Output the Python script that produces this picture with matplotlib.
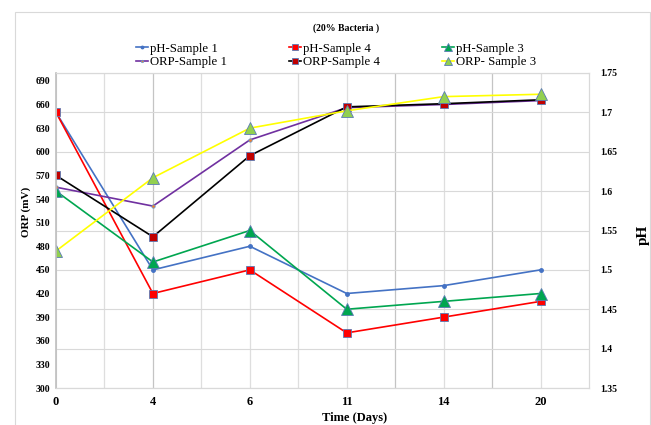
import numpy as np
import matplotlib.pyplot as plt
from matplotlib.patches import Rectangle

plt.rcParams['font.family'] = ['Liberation Serif', 'DejaVu Serif']

# Data
days = ['0', '4', '6', '11', '14', '20']
ph_s1 = [1.70, 1.50, 1.53, 1.47, 1.48, 1.50]
ph_s4 = [1.70, 1.47, 1.50, 1.42, 1.44, 1.46]
ph_s3 = [1.60, 1.51, 1.55, 1.45, 1.46, 1.47]
orp_s1 = [555, 531, 615, 656, 660, 665]
orp_s4 = [570, 492, 595, 657, 661, 666]
orp_s3 = [474, 567, 630, 652, 670, 673]

orp_ticks = np.arange(300, 691, 30)
ph_ticks = np.arange(1.35, 1.751, 0.05)

x = np.arange(len(days))

fig = plt.figure(figsize=(6.51, 4.25), dpi=100)

# outer chart frame
fig.patches.append(Rectangle((15 / 651, -0.1), 635 / 651, 1 - 12 / 425 + 0.1,
                             transform=fig.transFigure, fill=False,
                             edgecolor='#d9d9d9', linewidth=0.8))

ax2 = fig.add_axes([56 / 651, 37 / 425, 533 / 651, 315 / 425])
ax = ax2.twinx()
ax.yaxis.tick_left()
ax.yaxis.set_label_position('left')
ax2.yaxis.tick_right()
ax2.yaxis.set_label_position('right')
ax.set_zorder(ax2.get_zorder() + 1)
ax.patch.set_visible(False)

edge = '#5b7bb5'
lw = 1.2
# pH series (right axis)
l_ph1, = ax2.plot(x, ph_s1, color='#4472C4', lw=lw, marker='o', ms=2.5,
                  mec='#4472C4', label='pH-Sample 1')
l_ph4, = ax2.plot(x, ph_s4, color='#FF0000', lw=lw, marker='s', ms=6,
                  mfc='#FF0000', mec=edge, mew=0.6, label='pH-Sample 4')
l_ph3, = ax2.plot(x, ph_s3, color='#00A650', lw=lw, marker='^', ms=8,
                  mfc='#00A650', mec=edge, mew=0.6, label='pH-Sample 3')
# ORP series (left axis)
l_o1, = ax.plot(x, orp_s1, color='#7030A0', lw=lw, marker='o', ms=2.5,
                mfc='#ED7D31', mec='#5B9BD5', mew=0.5, label='ORP-Sample 1')
l_o4, = ax.plot(x, orp_s4, color='#000000', lw=lw, marker='s', ms=6,
                mfc='#C00000', mec=edge, mew=0.6, label='ORP-Sample 4')
l_o3, = ax.plot(x, orp_s3, color='#FFFF00', lw=lw, marker='^', ms=8,
                mfc='#92D050', mec=edge, mew=0.6, label='ORP- Sample 3')

ax2.set_xlim(0, 5.5)
ax2.set_ylim(1.35, 1.75)
ax.set_ylim(300, 700)

ax2.set_xticks(x)
ax2.set_xticklabels(days, fontsize=9, fontweight='bold')
ax2.set_yticks(ph_ticks)
ax2.set_yticklabels([f'{v:g}' for v in np.round(ph_ticks, 2)], fontsize=7,
                    fontweight='bold')
ax.set_yticks(orp_ticks)
ax.set_yticklabels([str(v) for v in orp_ticks], fontsize=7, fontweight='bold')

# vertical gridlines every half step, a few drawn darker as in the original
for gx in np.arange(0.5, 5.5, 0.5):
    dark = gx in (1.0, 3.5, 4.5)
    ax2.axvline(gx, color='#c4c4c4' if dark else '#dedede', lw=0.9, zorder=0)
ax2.grid(True, which='major', axis='y', color='#d9d9d9', lw=0.8)
ax2.tick_params(which='both', length=0)
ax2.tick_params(axis='x', pad=6)
ax2.tick_params(axis='y', pad=8)
ax.tick_params(length=0, pad=4)

for a in (ax, ax2):
    for s in a.spines.values():
        s.set_color('#d9d9d9')
        s.set_linewidth(0.8)
ax.spines['left'].set_color('#bfbfbf')
ax.spines['left'].set_linewidth(1.2)

ax2.set_xlabel('Time (Days)', fontsize=9, fontweight='bold', labelpad=2)
ax2.xaxis.set_label_coords(0.561, -0.075)
ax.set_ylabel('ORP (mV)', fontsize=8, fontweight='bold')
ax.yaxis.set_label_coords(-0.047, 0.56)
ax2.set_ylabel('pH', fontsize=11, fontweight='bold', rotation=90)
ax2.yaxis.set_label_coords(1.09, 0.486)

fig.text(346 / 651, 1 - 28 / 425, '(20% Bacteria )', fontsize=7,
         fontweight='bold', ha='center', va='center')

handles = [l_ph1, l_o1, l_ph4, l_o4, l_ph3, l_o3]
fig.legend(handles=handles, labels=[h.get_label() for h in handles],
           ncol=3, loc='upper left', bbox_to_anchor=(124 / 651, 1 - 31 / 425),
           frameon=False, fontsize=9.2, handlelength=1.0, handletextpad=0.15,
           columnspacing=4.8, labelspacing=0.12, markerscale=0.7)

fig.savefig('out.png', dpi=100)
